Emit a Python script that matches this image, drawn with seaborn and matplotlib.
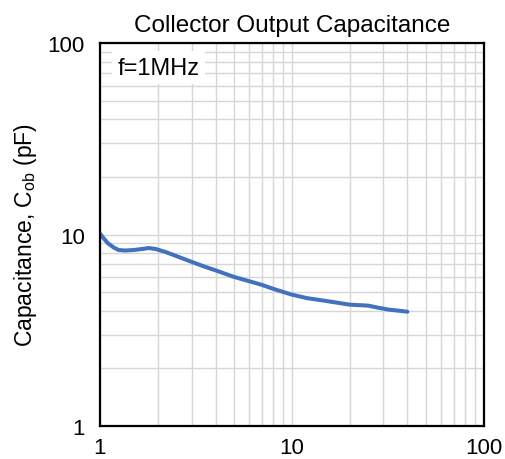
import matplotlib
matplotlib.use("Agg")
import matplotlib.pyplot as plt
import seaborn as sns
import pandas as pd
from matplotlib.ticker import LogLocator, NullFormatter, FixedLocator, FixedFormatter

vce = [1.0, 1.05, 1.1, 1.18, 1.25, 1.35, 1.5, 1.65, 1.8, 1.95, 2.2, 2.6, 3.0, 3.5, 4.0, 5.0, 6.0, 7.0, 8.0, 10.0, 12.0, 15.0, 20.0, 25.0, 28.0, 32.0, 36.0, 40.0]
cob = [10.1, 9.5, 9.0, 8.55, 8.3, 8.25, 8.3, 8.4, 8.5, 8.4, 8.1, 7.6, 7.2, 6.8, 6.5, 6.0, 5.7, 5.45, 5.2, 4.85, 4.65, 4.5, 4.3, 4.25, 4.15, 4.05, 4.0, 3.95]

x_ticks = [1, 10, 100]
y_ticks = [1, 10, 100]
title = "Collector Output Capacitance"
ylabel = r"Capacitance, C$_{\mathregular{ob}}$ (pF)"
note = "f=1MHz"

sns.set_theme(style="white")
plt.rcParams['font.family'] = ['Liberation Sans', 'DejaVu Sans']
plt.rcParams['mathtext.fontset'] = 'custom'
plt.rcParams['mathtext.rm'] = 'Liberation Sans'
plt.rcParams['text.color'] = 'black'

df = pd.DataFrame({"VCE": vce, "Cob": cob})

fig = plt.figure(figsize=(5.05, 4.6), dpi=100)
ax = fig.add_axes([0.198, 0.072, 0.760, 0.832])
sns.lineplot(data=df, x="VCE", y="Cob", ax=ax, color="#4271BE", linewidth=2.9)
ax.set_xscale("log")
ax.set_yscale("log")
ax.set_xlim(1, 100)
ax.set_ylim(1, 100)

ax.xaxis.set_major_locator(FixedLocator(x_ticks))
ax.xaxis.set_major_formatter(FixedFormatter([str(t) for t in x_ticks]))
ax.yaxis.set_major_locator(FixedLocator(y_ticks))
ax.yaxis.set_major_formatter(FixedFormatter([str(t) for t in y_ticks]))
ax.xaxis.set_minor_locator(LogLocator(base=10, subs=range(2, 10)))
ax.yaxis.set_minor_locator(LogLocator(base=10, subs=range(2, 10)))
ax.xaxis.set_minor_formatter(NullFormatter())
ax.yaxis.set_minor_formatter(NullFormatter())

ax.grid(which="both", color="#d6d6d6", linewidth=1.0)
ax.set_axisbelow(True)
ax.tick_params(which="both", length=0, labelsize=16, colors="black")
ax.tick_params(axis="y", pad=11)
ax.tick_params(axis="x", pad=8)
for s in ax.spines.values():
    s.set_color("black")
    s.set_linewidth(1.6)

ax.set_xlabel("")
ax.set_ylabel(ylabel, fontsize=16.5, color="black", labelpad=6)
ax.set_title(title, fontsize=17.5, color="black", pad=9)
ax.text(0.045, 0.965, note, transform=ax.transAxes, fontsize=17, va="top", ha="left",
        color="black", bbox=dict(facecolor="white", edgecolor="none", pad=4))

fig.savefig("out.png", dpi=100)
